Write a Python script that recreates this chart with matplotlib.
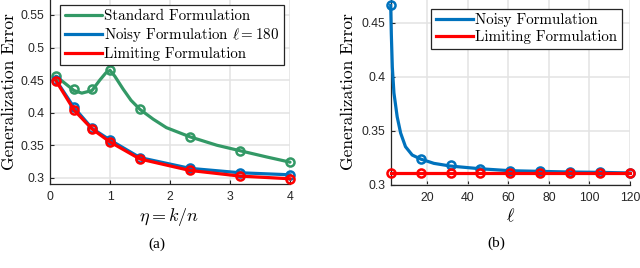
import matplotlib
matplotlib.use("Agg")
import matplotlib.pyplot as plt

plt.rcParams['mathtext.fontset'] = 'cm'

# ---------------- data: panel (a) ----------------
eta_markers = [0.1, 0.4, 0.7, 1.0, 1.5, 2.33, 3.17, 4.0]
standard_markers = [0.457, 0.436, 0.436, 0.465, 0.405, 0.363, 0.3415, 0.324]
noisy_markers = [0.450, 0.408, 0.376, 0.358, 0.331, 0.3145, 0.3077, 0.3046]
limiting_markers = [0.449, 0.404, 0.375, 0.355, 0.3288, 0.3113, 0.3026, 0.2985]

# green curve drawn as a denser line
eta_std_line = [0.1, 0.25, 0.4, 0.53, 0.7, 0.83, 0.93, 1.0, 1.08, 1.22, 1.35, 1.5, 1.72, 1.94,
                2.33, 2.78, 3.17, 3.61, 4.0]
standard_line = [0.456, 0.445, 0.434, 0.430, 0.434, 0.450, 0.461, 0.465, 0.456, 0.436, 0.419,
                 0.405, 0.390, 0.377, 0.363, 0.350, 0.3415, 0.332, 0.324]

# ---------------- data: panel (b) ----------------
ell_markers = [2, 16.75, 31.5, 46.25, 61, 75.75, 90.5, 105.25, 120]
noisy_b_markers = [0.466, 0.324, 0.3185, 0.315, 0.3132, 0.3126, 0.312, 0.3117, 0.3111]
limiting_b_markers = [0.311] * 9

ell_line = [2, 2.3, 2.8, 3.6, 5.2, 6.9, 9.3, 12.6, 16.75, 23.3, 31.5, 46.25, 61, 75.75, 90.5, 105.25, 120]
noisy_b_line = [0.466, 0.44, 0.409, 0.385, 0.363, 0.348, 0.3354, 0.3277, 0.324, 0.320,
                0.3175, 0.315, 0.3132, 0.3126, 0.312, 0.3117, 0.3111]

GREEN = '#339966'
BLUE = '#0072BD'
RED = '#FF0000'
GRID = '#e3e3e3'
SPINE = '#262626'

TICK_FAMILY = 'Liberation Sans'
TICK_SIZE = 8.8
LW = 2.3
MS = 5.8
MEW = 1.8

fig = plt.figure(figsize=(6.4, 2.68), dpi=100)
ax1 = fig.add_axes([50 / 640, 1 - 184.3 / 268, 240 / 640, 184.3 / 268])
ax2 = fig.add_axes([390.7 / 640, 1 - 185 / 268, 239.3 / 640, 185 / 268])


def style(ax):
    for s in ['top', 'right']:
        ax.spines[s].set_visible(False)
    for s in ['left', 'bottom']:
        ax.spines[s].set_color(SPINE)
        ax.spines[s].set_linewidth(0.9)
    ax.grid(True, color=GRID, linewidth=1.1)
    ax.set_axisbelow(True)
    ax.tick_params(direction='in', length=3, width=0.8, color=SPINE,
                   labelcolor='#262626')
    ax.tick_params(axis='x', pad=5)
    ax.tick_params(axis='y', pad=4)
    for lab in ax.get_xticklabels() + ax.get_yticklabels():
        lab.set_fontfamily(TICK_FAMILY)
        lab.set_fontsize(TICK_SIZE)


def legend(ax, handles, labels, anchor):
    leg = ax.legend(handles, labels, loc='upper right', bbox_to_anchor=anchor,
                    borderaxespad=0, prop={'family': 'cmr10', 'size': 10.8},
                    frameon=True, fancybox=False, handlelength=2.5,
                    handletextpad=0.15, borderpad=0.3, labelspacing=0.2,
                    framealpha=1)
    leg.get_frame().set_edgecolor('#262626')
    leg.get_frame().set_linewidth(0.9)
    leg.set_zorder(10)
    return leg


# ---------- panel (a) ----------
l1, = ax1.plot(eta_std_line, standard_line, color=GREEN, lw=LW, zorder=3, clip_on=False,
               solid_capstyle='round', solid_joinstyle='round')
ax1.plot(eta_markers, standard_markers, 'o', color=GREEN, mfc='none', ms=MS, mew=MEW,
         zorder=4, clip_on=False)
l2, = ax1.plot(eta_markers, noisy_markers, color=BLUE, lw=LW, zorder=3, clip_on=False,
               solid_joinstyle='round')
ax1.plot(eta_markers, noisy_markers, 'o', color=BLUE, mfc='none', ms=MS, mew=MEW,
         zorder=4, clip_on=False)
l3, = ax1.plot(eta_markers, limiting_markers, color=RED, lw=LW, zorder=5, clip_on=False,
               solid_joinstyle='round')
ax1.plot(eta_markers, limiting_markers, 'o', color=RED, mfc='none', ms=MS, mew=MEW,
         zorder=6, clip_on=False)

ax1.set_xlim(0, 4)
ax1.set_ylim(0.29, 0.573)
ax1.set_xticks([0, 1, 2, 3, 4])
ax1.set_yticks([0.3, 0.35, 0.4, 0.45, 0.5, 0.55])
ax1.set_yticklabels(['0.3', '0.35', '0.4', '0.45', '0.5', '0.55'])
style(ax1)

legend(ax1, [l1, l2, l3],
       ['Standard Formulation', r'Noisy Formulation $\ell = 180$', 'Limiting Formulation'],
       (0.975, 0.975))

# ---------- panel (b) ----------
m1, = ax2.plot(ell_line, noisy_b_line, color=BLUE, lw=LW, zorder=3, clip_on=False,
               solid_joinstyle='round')
ax2.plot(ell_markers, noisy_b_markers, 'o', color=BLUE, mfc='none', ms=MS, mew=MEW,
         zorder=4, clip_on=False)
m2, = ax2.plot(ell_markers, limiting_b_markers, color=RED, lw=LW, zorder=5, clip_on=False)
ax2.plot(ell_markers, limiting_b_markers, 'o', color=RED, mfc='none', ms=MS, mew=MEW,
         zorder=6, clip_on=False)

ax2.set_xlim(2, 120)
ax2.set_ylim(0.3, 0.471)
ax2.set_xticks([20, 40, 60, 80, 100, 120])
ax2.set_yticks([0.3, 0.35, 0.4, 0.45])
ax2.set_yticklabels(['0.3', '0.35', '0.4', '0.45'])
style(ax2)

legend(ax2, [m1, m2], ['Noisy Formulation', 'Limiting Formulation'], (0.967, 0.953))

# ---------- labels ----------
lab_kw = dict(family='cmr10', size=12.5, rotation=90, ha='center', va='center')
fig.text(9 / 640, 1 - 92 / 268, 'Generalization Error', **lab_kw)
fig.text(348 / 640, 1 - 92 / 268, 'Generalization Error', **lab_kw)
fig.text(169 / 640, 1 - 216.5 / 268, r'$\eta = k/n$', size=13, ha='center', va='center')
fig.text(510.7 / 640, 1 - 216 / 268, r'$\ell$', size=13, ha='center', va='center')

fig.text(156.7 / 640, 1 - 244 / 268, '(a)', family='Liberation Serif', size=11,
         ha='center', va='center')
fig.text(496.7 / 640, 1 - 243.3 / 268, '(b)', family='Liberation Serif', size=11,
         ha='center', va='center')

fig.savefig('out.png', dpi=100)
